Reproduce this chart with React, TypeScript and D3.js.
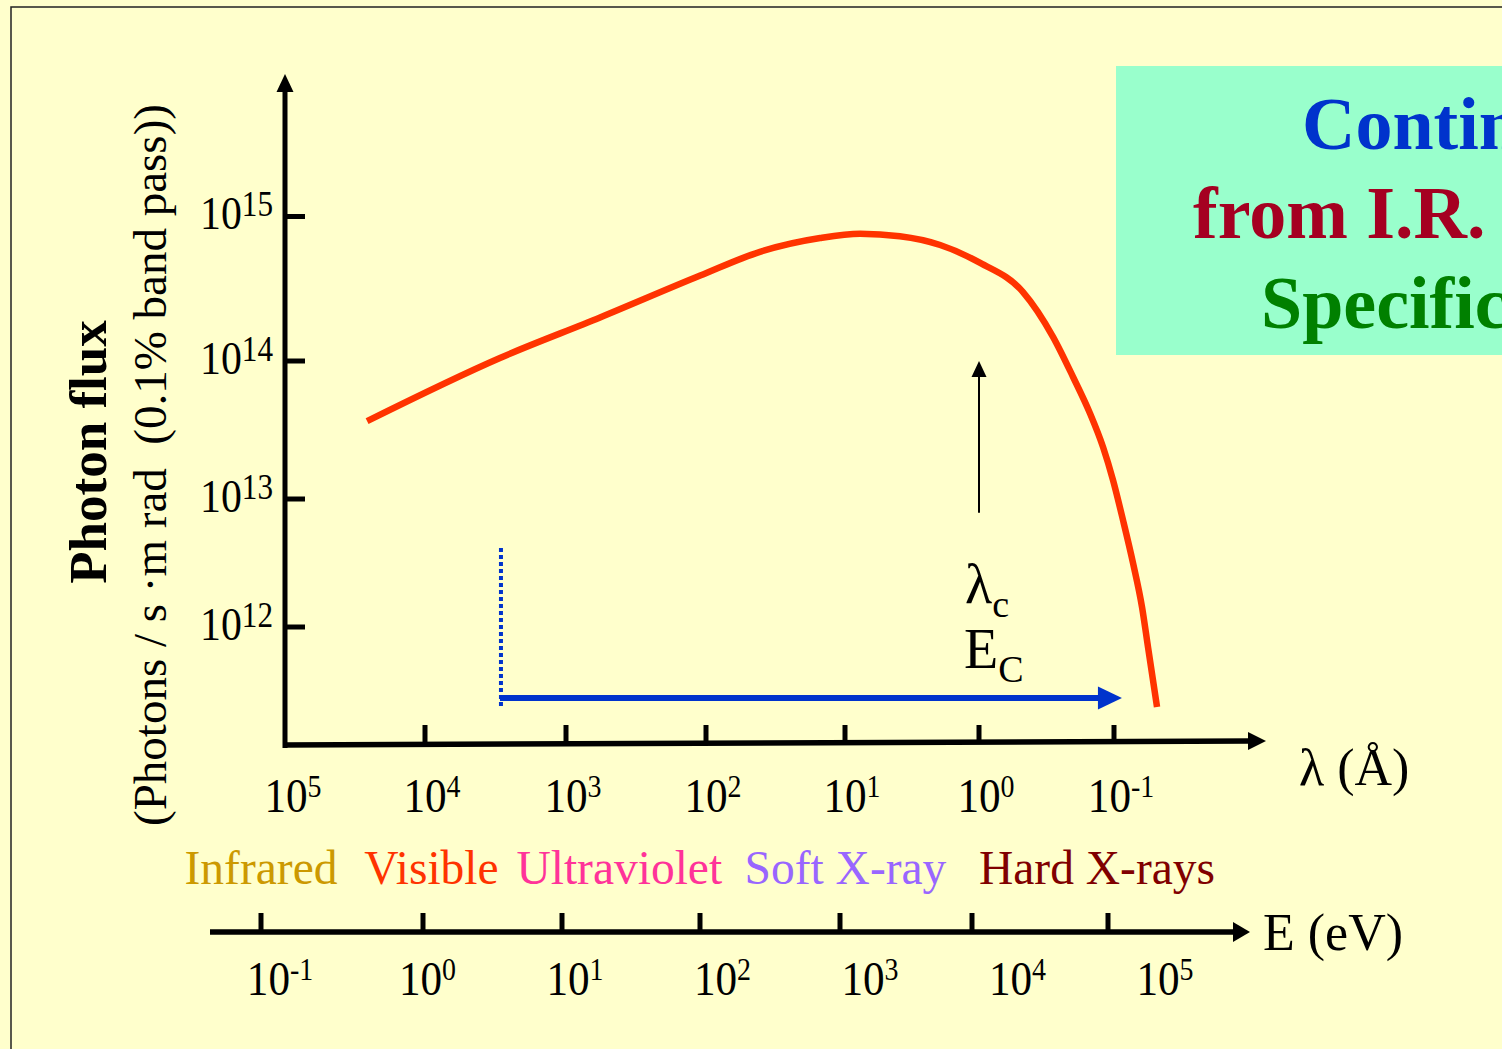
import * as d3 from 'd3';

const W = 1502;
const H = 1049;
const FONT = "'Liberation Serif', 'Times New Roman', serif";

// axis ticks
const lambdaTicks = [1e5, 1e4, 1e3, 1e2, 1e1, 1e0, 1e-1]; // Å
const energyTicks = [1e-1, 1e0, 1e1, 1e2, 1e3, 1e4, 1e5]; // eV
const fluxTicks = [1e15, 1e14, 1e13, 1e12];

// spectrum curve
const curveLambda = [2.61e4, 2.94e3, 571, 110, 40.9, 15.1, 7.7, 3.9, 1.95, 0.98,
  0.472, 0.283, 0.201, 0.151, 0.1206, 0.1017, 0.0858, 0.0723, 0.062, 0.056, 0.048];
const curveFlux = [3.67e13, 1.05e14, 2.0e14, 3.9e14, 5.7e14, 7.1e14, 7.6e14, 7.3e14, 6.35e14, 4.77e14,
  3.0e14, 1.47e14, 7.66e13, 4.2e13, 2.38e13, 1.37e13, 6.85e12, 3.16e12, 1.43e12, 6.98e11, 2.37e11];

// spectral bands, centred on a representative energy
const bands = ['Infrared', 'Visible', 'Ultraviolet', 'Soft X-ray', 'Hard X-rays'];
const bandColors = ['#CC9900', '#FF3300', '#FF3399', '#9966FF', '#800000'];
const bandEnergy = [0.1, 1.15, 26, 1100, 83000];

// usable range arrow and critical wavelength marker
const rangeStart = 2.94e3;
const rangeEnd = 0.0873;
const rangeFlux = 2.79e11;
const rangeTopFlux = 4.14e12;
const rangeBottomFlux = 2.3e11;
const lambdaC = 1;
const lambdaCFrom = 7.8e12;
const lambdaCTo = 1e14;

const boxLines = ['Continuous spectrum', 'from I.R. to X-rays', 'Specific wavelengths'];
const boxColors = ['#0033CC', '#A50021', '#008000'];

// scales (polylinear log, the slide's decades are not evenly spaced)
const x = d3.scaleLog().domain(lambdaTicks).range([286, 425, 566, 706, 845, 979, 1114]);
const y = d3.scaleLog().domain(fluxTicks).range([216.5, 361, 499, 627]);
const xE = d3.scaleLog().domain(energyTicks).range([261, 423, 562, 700, 840, 972, 1108]);
const xELabel = d3.scaleLog().domain([1e-1, 1e5]).range([280, 1165]);
const lamAxisY = d3.scaleLinear().domain([283, 1266]).range([745, 741]);

const exp = (v: number) => String(Math.round(Math.log10(v)));

function Pow({ px, py, v, anchor, size, sup, dy, sx }: any) {
  return (
    <g transform={`translate(${px},${py}) scale(${sx},1)`}>
      <text textAnchor={anchor} fontSize={size} fill="#000">
        <tspan>10</tspan>
        <tspan fontSize={sup} dy={dy}>{exp(v)}</tspan>
      </text>
    </g>
  );
}

export default function App() {
  const line = d3.line<number>()
    .x((_, i) => x(curveLambda[i]))
    .y((_, i) => y(curveFlux[i]))
    .curve(d3.curveMonotoneX);

  const lamEnd = 1266;
  const eAxisY = 932;
  const ry = y(rangeFlux);
  const rx0 = x(rangeStart);
  const rx1 = x(rangeEnd);
  const cx = x(lambdaC);
  const cTip = y(lambdaCTo);

  return (
    <div style={{ position: 'absolute', left: 0, top: 0 }}>
      <svg width={W} height={H} style={{ display: 'block' }} fontFamily={FONT}>
        <rect width={W} height={H} fill="#FFFFCC" />
        <rect x={11} y={7} width={1700} height={1200} fill="none" stroke="#222" strokeWidth={1.5} />

        {/* title box, cut by the picture edge */}
        <rect x={1116} y={66} width={420} height={289} fill="#99FFCC" />
        {boxLines.map((t, i) => (
          <text key={t} x={[1302, 1193, 1261][i]} y={[149, 238, 328][i]} fontSize={74}
            fontWeight="bold" fill={boxColors[i]}>{t}</text>
        ))}

        {/* y axis */}
        <line x1={285} y1={748} x2={285} y2={88} stroke="#000" strokeWidth={5} />
        <polygon points="285,74 276.5,92 293.5,92" fill="#000" />
        {fluxTicks.map(t => (
          <g key={t}>
            <line x1={285} x2={305} y1={y(t)} y2={y(t)} stroke="#000" strokeWidth={5} />
            <Pow px={273} py={y(t) + 12.5} v={t} anchor="end" size={47} sup={35} dy={-13} sx={0.89} />
          </g>
        ))}

        <text transform="translate(106,452) rotate(-90)" textAnchor="middle" fontSize={53}
          fontWeight="bold">Photon flux</text>
        <text transform="translate(166,465) rotate(-90)" textAnchor="middle" fontSize={47}
          style={{ whiteSpace: 'pre' }}>(Photons / s ·m rad  (0.1% band pass))</text>

        {/* wavelength axis */}
        <line x1={283} y1={lamAxisY(283)} x2={1250} y2={lamAxisY(1250)} stroke="#000" strokeWidth={5.5} />
        <polygon points={`${lamEnd},${lamAxisY(lamEnd)} 1248,${lamAxisY(1248) - 9} 1248,${lamAxisY(1248) + 9}`} fill="#000" />
        {lambdaTicks.slice(1).map(t => (
          <line key={t} x1={x(t)} x2={x(t)} y1={725} y2={lamAxisY(x(t))} stroke="#000" strokeWidth={5} />
        ))}
        {lambdaTicks.map(t => (
          <Pow key={t} px={x(t) + 7} py={812} v={t} anchor="middle" size={48} sup={31} dy={-15} sx={0.9} />
        ))}
        <text x={1299} y={785} fontSize={52}>λ (Å)</text>

        {/* spectrum */}
        <path d={line(curveLambda) || ''} fill="none" stroke="#FF3300" strokeWidth={6.5} />

        {/* usable range */}
        <line x1={rx0 + 1} x2={rx0 + 1} y1={y(rangeTopFlux)} y2={y(rangeBottomFlux)}
          stroke="#0033CC" strokeWidth={4} strokeDasharray="4 3" />
        <line x1={rx0} x2={rx1 - 22} y1={ry} y2={ry} stroke="#0033CC" strokeWidth={6} />
        <polygon points={`${rx1},${ry} ${rx1 - 24},${ry - 11.5} ${rx1 - 24},${ry + 11.5}`} fill="#0033CC" />

        {/* critical wavelength */}
        <line x1={cx} x2={cx} y1={y(lambdaCFrom)} y2={cTip + 14} stroke="#000" strokeWidth={2} />
        <polygon points={`${cx},${cTip} ${cx - 7.5},${cTip + 16} ${cx + 7.5},${cTip + 16}`} fill="#000" />
        <text x={965} y={603} fontSize={56}>λ<tspan fontSize={38} dy={14}>c</tspan></text>
        <text x={964} y={668} fontSize={56}>E<tspan fontSize={38} dy={14}>C</tspan></text>

        {/* bands */}
        {bands.map((b, i) => (
          <text key={b} x={xE(bandEnergy[i])} y={884} textAnchor="middle" fontSize={47.5}
            fill={bandColors[i]}>{b}</text>
        ))}

        {/* energy axis */}
        <line x1={210} x2={1236} y1={eAxisY} y2={eAxisY} stroke="#000" strokeWidth={5.5} />
        <polygon points={`1250,${eAxisY} 1233,${eAxisY - 10} 1233,${eAxisY + 10}`} fill="#000" />
        {energyTicks.map(t => (
          <line key={t} x1={xE(t)} x2={xE(t)} y1={913} y2={eAxisY} stroke="#000" strokeWidth={5} />
        ))}
        {energyTicks.map(t => (
          <Pow key={t} px={xELabel(t)} py={995} v={t} anchor="middle" size={48} sup={31} dy={-15} sx={0.9} />
        ))}
        <text x={1263} y={950} fontSize={52}>E (eV)</text>
      </svg>
    </div>
  );
}
